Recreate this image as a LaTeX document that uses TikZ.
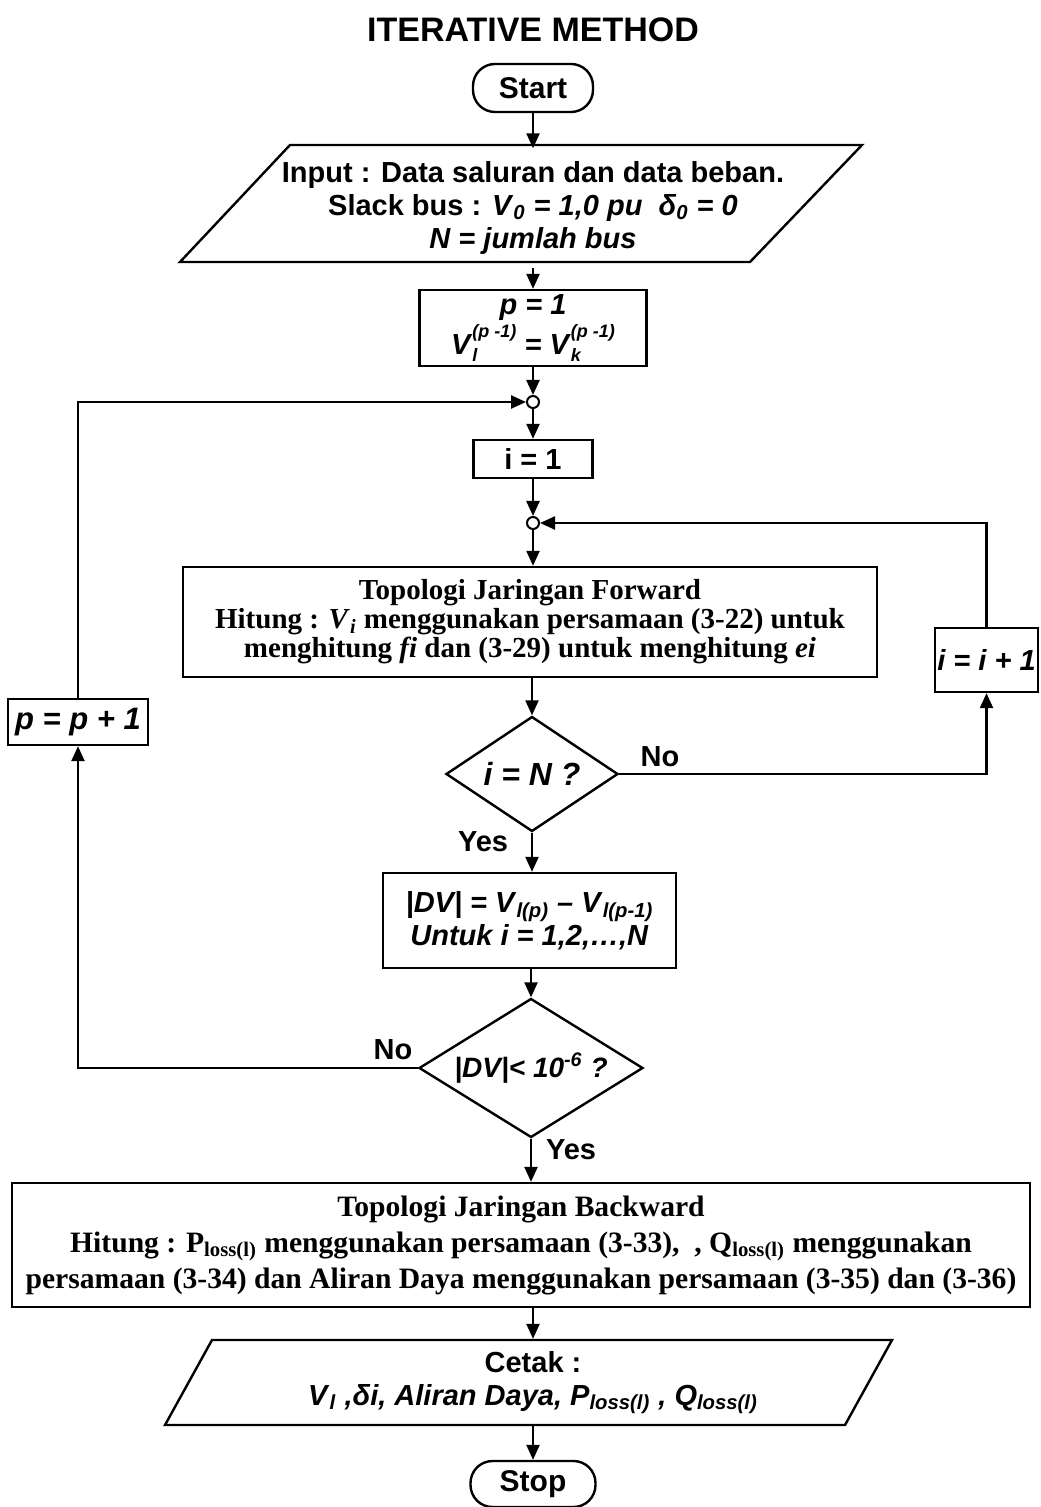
\documentclass[tikz,border=0pt]{standalone}
\usepackage{fontspec}
\setmainfont{Liberation Sans}
\newfontfamily\serifb{Liberation Serif}
\usetikzlibrary{shapes.geometric,arrows.meta}
\newcommand{\bi}[1]{\textit{#1}}
\newcommand{\sub}[1]{\textsubscript{\textit{#1}}}
\newcommand{\sps}[1]{\textsuperscript{\textit{#1}}}
\newcommand{\supsub}[2]{\rlap{\raisebox{-0.45ex}{\fontsize{9}{9}\selectfont\textit{#1}}}\raisebox{1.15ex}{\fontsize{9}{9}\selectfont\textit{#2}}}
\begin{document}
\begin{tikzpicture}[x=0.5pt,y=-0.5pt,line width=1.2pt,
  arr/.style={-{Triangle[length=7.5pt,width=6.5pt]}},
  sf/.style={font=\bfseries\fontsize{14.5}{16.5}\selectfont},
  rm/.style={font=\serifb\bfseries\fontsize{14.5}{14.5}\selectfont},
  box/.style={draw,rectangle,inner sep=0pt,align=center,sf},
  term/.style={draw,rectangle,rounded corners=11pt,inner sep=0pt,align=center,
    font=\bfseries\fontsize{15}{16}\selectfont},
  dec/.style={draw,diamond,inner sep=0pt,align=center,sf},
  joint/.style={draw,circle,line width=1pt,minimum size=6pt,inner sep=0pt},
  lbl/.style={sf,inner sep=0pt}]
\useasboundingbox (0,0) rectangle (1040,1507);

\node[font=\bfseries\fontsize{17}{19}\selectfont] (title) at (533,30) {ITERATIVE METHOD};
\node[term,minimum width=60pt,minimum height=24pt] (start) at (533,88) {Start};

\node[align=center,sf,inner sep=0pt,minimum height=58.5pt] (in) at (533,208)
  {Input : Data saluran dan data beban.\\
   Slack bus : \bi{V}\sub{0} \bi{= 1,0 pu\ \ δ}\sub{0} \bi{= 0}\\
   \bi{N = jumlah bus}};
\draw (290,145) -- (862,145) -- (750,262) -- (180,262) -- cycle;

\node[box,minimum width=113.5pt,minimum height=38pt] (p1) at (533,328)
  {\bi{p = 1}\\[1pt]
   \bi{V}\supsub{l}{(p -1)} \bi{=} \bi{V}\supsub{k}{(p -1)}};
\node[joint] (c1) at (533,402) {};
\node[box,minimum width=59.5pt,minimum height=19pt] (i1) at (533,459) {i = 1};
\node[joint] (c2) at (533,523) {};

\node[box,rm,minimum width=347pt,minimum height=55pt] (fw) at (530,622)
  {Topologi Jaringan Forward\\
   Hitung : \textit{V}\textsubscript{\textit{i}} menggunakan persamaan (3-22) untuk\\
   menghitung \textit{fi} dan (3-29) untuk menghitung \textit{ei}};

\node[dec,aspect=1.5,font=\bfseries\fontsize{16}{18}\selectfont,minimum width=86pt,minimum height=57.5pt] (d1) at (532,774) {\bi{i = N ?}};
\node[box,minimum width=51.5pt,minimum height=32pt] (ii) at (986.5,660) {\bi{i = i + 1}};

\node[box,minimum width=146.5pt,minimum height=47.5pt] (dv) at (529.5,920.5)
  {\bi{|DV| = V}\sub{l(p)} \bi{– V}\sub{l(p-1)}\\
   \bi{Untuk i = 1,2,…,N}};

\node[dec,aspect=1.6,font=\bfseries\fontsize{14}{16}\selectfont,minimum width=112pt,minimum height=69.5pt] (d2) at (531,1068)
  {\bi{|DV|< 10}\sps{-6} \bi{?}};
\node[box,font=\bfseries\fontsize{15.5}{17}\selectfont,minimum width=70pt,minimum height=23pt] (pp) at (78,722) {\bi{p = p + 1}};

\node[box,font=\serifb\bfseries\fontsize{14.8}{18}\selectfont,minimum width=509pt,minimum height=62pt] (bw) at (521,1245)
  {Topologi Jaringan Backward\\
   Hitung : P\textsubscript{loss(l)} menggunakan persamaan (3-33), \ , Q\textsubscript{loss(l)} menggunakan\\
   persamaan (3-34) dan Aliran Daya menggunakan persamaan (3-35) dan (3-36)};

\node[align=center,sf,inner sep=0pt,minimum height=42.5pt] (ce) at (533,1382.5)
  {Cetak :\\
   \bi{V}\sub{l} \bi{,δi, Aliran Daya, P}\sub{loss(l)} \bi{, Q}\sub{loss(l)}};
\draw (212,1340) -- (892,1340) -- (845,1425) -- (165,1425) -- cycle;

\node[term,minimum width=62.5pt,minimum height=23pt] (stop) at (533,1484) {Stop};

% labels
\node[lbl] (no1) at (660,757) {No};
\node[lbl] (yes1) at (483,842) {Yes};
\node[lbl] (no2) at (393,1050) {No};
\node[lbl] (yes2) at (571,1150) {Yes};

% connectors
\draw[arr] (start.south) -- (in.north);
\draw[arr] (in.south) -- (p1.north);
\draw[arr] (p1.south) -- (c1.north);
\draw[arr] (c1.south) -- (i1.north);
\draw[arr] (i1.south) -- (c2.north);
\draw[arr] (c2.south) -- (c2.south |- fw.north);
\draw[arr] (d1.north |- fw.south) -- (d1.north);
\draw[arr] (d1.south) -- (d1.south |- dv.north);
\draw[arr] (d1.east) -| (ii.south);
\draw[arr] (ii.north) |- (c2.east);
\draw[arr] (d2.north |- dv.south) -- (d2.north);
\draw[arr] (d2.west) -| (pp.south);
\draw[arr] (pp.north) |- (c1.west);
\draw[arr] (d2.south) -- (d2.south |- bw.north);
\draw[arr] (bw.south -| ce.north) -- (ce.north);
\draw[arr] (ce.south) -- (stop.north);
\end{tikzpicture}
\end{document}
